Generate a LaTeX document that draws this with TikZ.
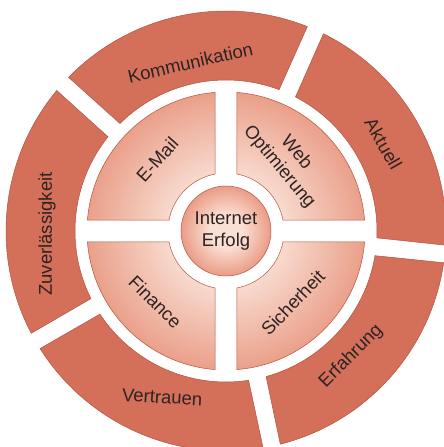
\documentclass[tikz,border=0pt]{standalone}
\usepackage{fontspec}
\setmainfont{Liberation Sans}
\usepackage{xcolor}
\definecolor{ringred}{RGB}{212,112,90}
\definecolor{ringline}{RGB}{182,82,62}
\definecolor{quadin}{RGB}{248,220,208}
\definecolor{quadout}{RGB}{234,160,138}
\definecolor{hubin}{RGB}{250,224,212}
\definecolor{hubout}{RGB}{234,156,134}
\definecolor{txtgray}{RGB}{45,35,35}
\pgfdeclareradialshading{quadshade}{\pgfpoint{0bp}{0bp}}{color(0bp)=(quadin); color(10bp)=(quadin); color(25bp)=(quadout); color(50bp)=(quadout)}
\pgfdeclareradialshading{hubshade}{\pgfpoint{0bp}{0bp}}{color(0bp)=(hubin); color(9bp)=(hubin); color(25bp)=(hubout); color(50bp)=(hubout)}

\begin{document}
\begin{tikzpicture}[
    outerseg/.style={fill=ringred, draw=ringline, line width=0.5pt},
    quadline/.style={draw=ringline, line width=0.5pt},
    lbl/.style={text=txtgray, font=\fontsize{18.5}{22}\selectfont, align=center, inner sep=0pt}]
                \clip (-226pt,-216pt) rectangle (218pt,231pt);

                % outer ring
                \draw[outerseg] (68.3:220pt) arc[start angle=68.3, end angle=135.7, radius=220pt] -- (134.6:151pt) arc[start angle=134.6, end angle=69.4, radius=151pt] -- cycle;
                \draw[outerseg] (-3.7:220pt) arc[start angle=-3.7, end angle=63.7, radius=220pt] -- (62.6:151pt) arc[start angle=62.6, end angle=-2.6, radius=151pt] -- cycle;
                \draw[outerseg] (-75.7:220pt) arc[start angle=-75.7, end angle=-8.3, radius=220pt] -- (-9.4:151pt) arc[start angle=-9.4, end angle=-74.6, radius=151pt] -- cycle;
                \draw[outerseg] (-147.7:220pt) arc[start angle=-147.7, end angle=-80.3, radius=220pt] -- (-81.4:151pt) arc[start angle=-81.4, end angle=-146.6, radius=151pt] -- cycle;
                \draw[outerseg] (140.3:220pt) arc[start angle=140.3, end angle=207.7, radius=220pt] -- (206.6:151pt) arc[start angle=206.6, end angle=141.4, radius=151pt] -- cycle;

                % quadrants
                \begin{scope}
                    \clip (4.5:139pt) arc[start angle=4.5, end angle=85.5, radius=139pt] -- (79.1:58pt) arc[start angle=79.1, end angle=10.9, radius=58pt] -- cycle
                          (94.5:139pt) arc[start angle=94.5, end angle=175.5, radius=139pt] -- (169.1:58pt) arc[start angle=169.1, end angle=100.9, radius=58pt] -- cycle
                          (184.5:139pt) arc[start angle=184.5, end angle=265.5, radius=139pt] -- (259.1:58pt) arc[start angle=259.1, end angle=190.9, radius=58pt] -- cycle
                          (274.5:139pt) arc[start angle=274.5, end angle=355.5, radius=139pt] -- (349.1:58pt) arc[start angle=349.1, end angle=280.9, radius=58pt] -- cycle;
                    \shade[shading=quadshade] (0,0) circle (139pt);
                \end{scope}
                \draw[quadline] (4.5:139pt) arc[start angle=4.5, end angle=85.5, radius=139pt] -- (79.1:58pt) arc[start angle=79.1, end angle=10.9, radius=58pt] -- cycle;
                \draw[quadline] (94.5:139pt) arc[start angle=94.5, end angle=175.5, radius=139pt] -- (169.1:58pt) arc[start angle=169.1, end angle=100.9, radius=58pt] -- cycle;
                \draw[quadline] (184.5:139pt) arc[start angle=184.5, end angle=265.5, radius=139pt] -- (259.1:58pt) arc[start angle=259.1, end angle=190.9, radius=58pt] -- cycle;
                \draw[quadline] (274.5:139pt) arc[start angle=274.5, end angle=355.5, radius=139pt] -- (349.1:58pt) arc[start angle=349.1, end angle=280.9, radius=58pt] -- cycle;

                % hub
                \shade[shading=hubshade] (0,0) circle (45pt);
                \draw[quadline] (0,0) circle (45pt);

                \node[lbl] (hub) at (0,0) {Internet\\Erfolg};

                \node[lbl, rotate=48] (email) at (134:99pt) {E-Mail};
                \node[lbl, rotate=-50] (web) at (49:94pt) {Web\\Optimierung};
                \node[lbl, rotate=-45] (finance) at (225:100pt) {Finance};
                \node[lbl, rotate=46] (sicherheit) at (-47:98pt) {Sicherheit};

                \node[lbl, rotate=13] (kommunikation) at (102:172pt) {Kommunikation};
                \node[lbl, rotate=-60] (aktuell) at (29:180pt) {Aktuell};
                \node[lbl, rotate=45] (erfahrung) at (-45:177pt) {Erfahrung};
                \node[lbl, rotate=-3] (vertrauen) at (-111:178pt) {Vertrauen};
                \node[lbl, rotate=90] (zuverl) at (181:179pt) {Zuverlässigkeit};

            \end{tikzpicture}
\end{document}
